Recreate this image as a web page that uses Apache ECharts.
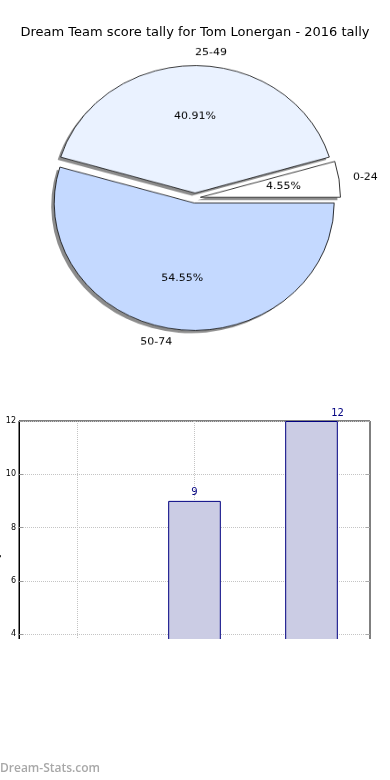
<!DOCTYPE html>
<html>
<head>
<meta charset="utf-8">
<script src="https://cdn.jsdelivr.net/npm/echarts@6/dist/echarts.min.js"></script>
<style>
html,body{margin:0;padding:0;background:#fff;}
#wrap{position:relative;width:390px;height:780px;overflow:hidden;}
#chart{position:absolute;left:0;top:0;width:390px;height:780px;}
#pie{position:absolute;left:0;top:0;width:390px;height:400px;transform:scaleY(0.91);transform-origin:195px 198px;}
</style>
</head>
<body>
<div id="wrap"><div id="chart"></div><div id="pie"></div></div>
<script>
const chartTitle = 'Dream Team score tally for Tom Lonergan - 2016 tally';
const categories = ['0-24', '25-49', '50-74'];
const tallies = [1, 9, 12];
const sliceColors = ['#ffffff', '#eaf2ff', '#c4d9ff'];
const yAxisName = 'Score Tally';
const watermark = 'Dream-Stats.com';

const total = tallies.reduce((a, b) => a + b, 0);
const FONT = 'DejaVu Sans';

const pieBase = {
  type: 'pie', silent: true,
  center: [195, 198], radius: 140,
  startAngle: 0, clockwise: false,
  selectedMode: 'multiple', selectedOffset: 5.5,
  avoidLabelOverlap: false,
  emphasis: { disabled: true }
};

const chart = echarts.init(document.getElementById('chart'), null, { renderer: 'canvas' });
chart.setOption({
  animation: false,
  backgroundColor: '#ffffff',
  title: {
    text: chartTitle, left: 'center', top: 21,
    textStyle: { fontFamily: FONT, fontSize: 13, fontWeight: 'normal', color: '#000' }
  },
  grid: {
    left: 19, right: 20, top: 421, bottom: 39.5,
    containLabel: false, outerBoundsMode: 'none',
    show: true, borderColor: '#000', borderWidth: 1, backgroundColor: 'transparent'
  },
  xAxis: {
    type: 'category', data: categories,
    axisLabel: { show: false }, axisTick: { show: false }, axisLine: { show: false },
    splitLine: { show: true, alignWithLabel: true, lineStyle: { type: 'dotted', color: '#c4c4c4', width: 1 } }
  },
  yAxis: [{
    type: 'value', min: 0, max: 12, interval: 2,
    name: yAxisName, nameLocation: 'middle', nameGap: 17.5, nameMoveOverlap: false,
    nameTextStyle: { fontFamily: FONT, fontSize: 11, color: '#000' },
    axisLine: { show: true, lineStyle: { color: '#000', width: 1 } },
    axisTick: { show: true, inside: true, length: 4, lineStyle: { color: '#999' } },
    axisLabel: { fontFamily: FONT, fontSize: 8, color: '#000', margin: 3 },
    splitLine: { show: true, lineStyle: { type: 'dotted', color: '#c4c4c4', width: 1 } }
  }, {
    type: 'value', min: 0, max: 12, interval: 2, position: 'right',
    axisLine: { show: false }, axisLabel: { show: false }, splitLine: { show: false },
    axisTick: { show: true, inside: true, length: 4, lineStyle: { color: '#aaa' } }
  }],
  series: [{
    type: 'bar', xAxisIndex: 0, yAxisIndex: 0,
    barWidth: '45%',
    itemStyle: { color: '#cbcce4', borderColor: '#000080', borderWidth: 1 },
    label: { show: true, position: 'top', distance: 3,
      fontFamily: FONT, fontSize: 10, color: '#000080' },
    data: tallies.map((v, i) => i === 2 ? { value: v, label: { offset: [26, 0] } } : v)
  }],
  graphic: [{
    type: 'rect', z: 100, left: 0, top: 639,
    shape: { width: 390, height: 120 },
    style: { fill: '#ffffff' }
  }, {
    type: 'text', z: 101, left: 0, top: 763,
    style: { text: watermark, fontFamily: 'Open Sans', fontSize: 12, fontWeight: 600, fill: '#a8a8a8' }
  }]
});

const pie = echarts.init(document.getElementById('pie'), null, { renderer: 'canvas' });
pie.setOption({
  animation: false,
  series: [Object.assign({}, pieBase, {
    z: 1,
    itemStyle: { color: '#ffffff', borderWidth: 0,
      shadowBlur: 0, shadowOffsetX: -3, shadowOffsetY: 3, shadowColor: 'rgba(0,0,0,0.45)' },
    label: { show: false }, labelLine: { show: false },
    data: categories.map((c, i) => ({ name: c, value: tallies[i], selected: true }))
  }), Object.assign({}, pieBase, {
    z: 2,
    itemStyle: { borderColor: '#000', borderWidth: 0.8 },
    label: { show: true, position: 'outside', formatter: '{b}', distance: 0, distanceToLabelLine: 0,
      fontFamily: FONT, fontSize: 11, color: '#000' },
    labelLine: { show: false, length: 14, length2: 0 },
    data: categories.map((c, i) => ({ name: c, value: tallies[i], selected: true,
      itemStyle: { color: sliceColors[i] } }))
  }), Object.assign({}, pieBase, {
    z: 3, radius: 162,
    itemStyle: { color: 'rgba(0,0,0,0)', borderWidth: 0 },
    label: { show: true, position: 'inside',
      formatter: p => (p.value / total * 100).toFixed(2) + '%',
      fontFamily: FONT, fontSize: 11, color: '#000' },
    labelLine: { show: false },
    data: categories.map((c, i) => ({ name: c, value: tallies[i], selected: true }))
  })]
});
</script>
</body>
</html>
